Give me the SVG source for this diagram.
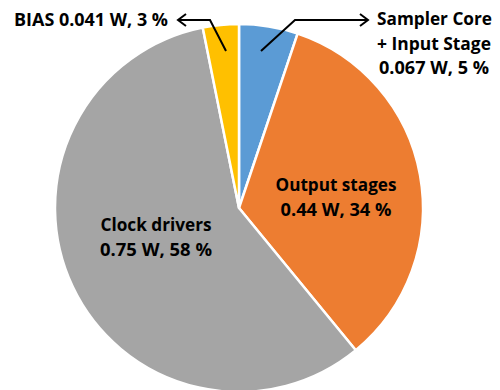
<svg xmlns="http://www.w3.org/2000/svg" width="500" height="390" viewBox="0 0 500 390">
  <style>
    .slice { stroke: #ffffff; stroke-width: 2.5; stroke-linejoin: round; }
    .lbl { font-family: "Open Sans", "Liberation Sans", sans-serif; font-weight: bold; font-size: 17px; fill: #000000; }
    .lead { fill: none; stroke: #000000; stroke-width: 2; }
  </style>
  <defs>
    <marker id="chev" markerUnits="userSpaceOnUse" markerWidth="12" markerHeight="16" refX="9" refY="7" orient="auto">
      <path d="M1,1 L9,7 L1,13" fill="none" stroke="#000000" stroke-width="2"/>
    </marker>
  </defs>
  <rect width="500" height="390" fill="#ffffff"/>

  <g id="slice-sampler">
    <path class="slice" fill="#5B9BD5" d="M239,208 L239,24 A184,184 0 0 1 297.62,33.59 Z"/>
  </g>
  <g id="slice-output">
    <path class="slice" fill="#ED7D31" d="M239,208 L297.62,33.59 A184,184 0 0 1 355.79,350.18 Z"/>
    <text class="lbl" x="336" y="191" text-anchor="middle" textLength="121" lengthAdjust="spacingAndGlyphs">Output stages</text>
    <text class="lbl" x="336" y="216" text-anchor="middle" textLength="111" lengthAdjust="spacingAndGlyphs">0.44 W, 34 %</text>
  </g>
  <g id="slice-clock">
    <path class="slice" fill="#A5A5A5" d="M239,208 L355.79,350.18 A184,184 0 1 1 202.72,27.61 Z"/>
    <text class="lbl" x="156" y="231" text-anchor="middle" textLength="111" lengthAdjust="spacingAndGlyphs">Clock drivers</text>
    <text class="lbl" x="156" y="256" text-anchor="middle" textLength="112" lengthAdjust="spacingAndGlyphs">0.75 W, 58 %</text>
  </g>
  <g id="slice-bias">
    <path class="slice" fill="#FFC000" d="M239,208 L202.72,27.61 A184,184 0 0 1 239,24 Z"/>
  </g>

  <g id="callout-bias">
    <text class="lbl" x="14" y="26" textLength="154" lengthAdjust="spacingAndGlyphs">BIAS 0.041 W, 3 %</text>
  </g>
  <g id="callout-sampler">
    <text class="lbl" x="377" y="25" textLength="115" lengthAdjust="spacingAndGlyphs">Sampler Core</text>
    <text class="lbl" x="377" y="50" textLength="114" lengthAdjust="spacingAndGlyphs">+ Input Stage</text>
    <text class="lbl" x="379" y="74" textLength="110" lengthAdjust="spacingAndGlyphs">0.067 W, 5 %</text>
  </g>

  <g id="connectors">
    <polyline class="lead" points="226,51 210,20 178,20" marker-end="url(#chev)"/>
    <polyline class="lead" points="261,51 295,20 368,20" marker-end="url(#chev)"/>
  </g>
</svg>
